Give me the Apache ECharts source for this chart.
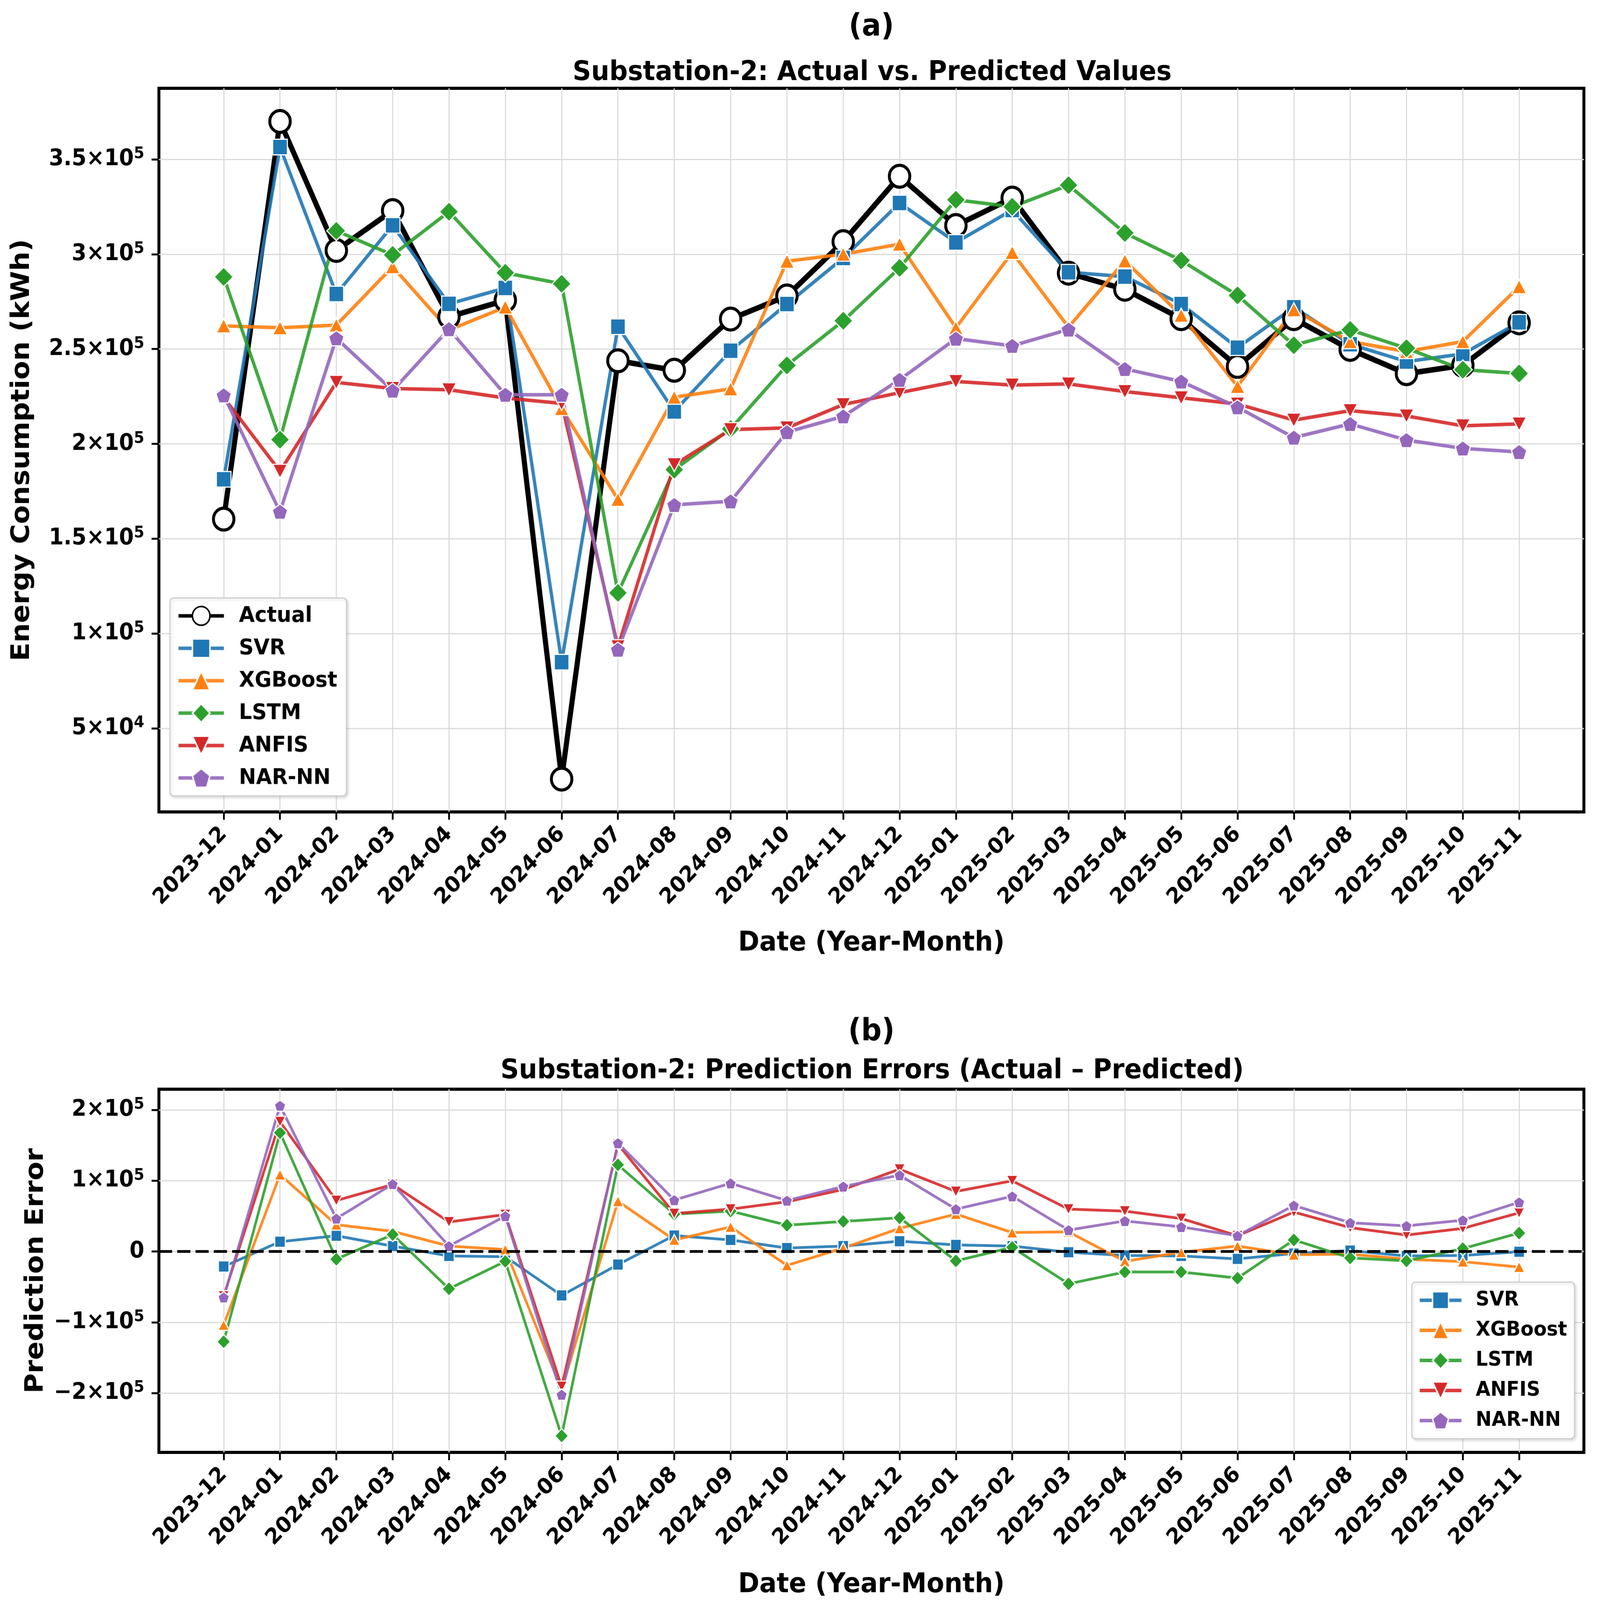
<!DOCTYPE html>
<html>
<head>
<meta charset="utf-8">
<script src="https://cdn.jsdelivr.net/npm/echarts@6/dist/echarts.min.js"></script>
<style>
html,body{margin:0;padding:0;background:#fff;overflow:hidden;}
#wrap{width:100vw;height:100vh;overflow:hidden;position:relative;}
#c{width:4370px;height:4097px;transform-origin:0 0;position:absolute;left:0;top:0;}
</style>
</head>
<body>
<div id="wrap"><div id="c"></div></div>
<script>
// ---------- data ----------
const months = ['2023-12','2024-01','2024-02','2024-03','2024-04','2024-05','2024-06','2024-07','2024-08','2024-09','2024-10','2024-11','2024-12','2025-01','2025-02','2025-03','2025-04','2025-05','2025-06','2025-07','2025-08','2025-09','2025-10','2025-11'];

const actual = [160300, 370000, 302000, 323000, 267000, 275700, 23200, 243800, 238800, 265800, 278000, 306600, 341100, 315100, 329600, 290000, 281500, 266000, 240800, 266000, 249800, 237000, 241400, 263800];
const svr    = [181300, 356500, 279000, 315200, 273800, 282200, 84900, 261800, 217100, 249100, 273700, 298000, 327000, 306200, 323300, 290500, 288200, 273700, 250700, 272000, 252500, 243400, 247400, 264100];
const xgb    = [262200, 261200, 262600, 293400, 260000, 272100, 218600, 170700, 224600, 229000, 296300, 300000, 305300, 261200, 300900, 261500, 296500, 267800, 230300, 270700, 253900, 248700, 253900, 282900];
const lstm   = [288000, 202200, 312300, 299600, 322400, 290200, 284400, 121400, 186400, 207900, 241400, 264900, 292800, 328700, 325000, 336400, 311200, 296700, 278300, 252000, 260100, 250400, 239100, 237100];
const anfis  = [224500, 185500, 232400, 229200, 228500, 224200, 221300, 93000, 189000, 207500, 208400, 220700, 227000, 232900, 231000, 231600, 227600, 224300, 221000, 212500, 217500, 214700, 209500, 210500];
const narnn  = [225600, 164200, 255700, 228100, 260500, 225900, 225900, 91500, 167800, 169700, 206200, 214500, 233800, 255500, 251700, 260300, 239500, 232900, 219300, 203300, 210500, 202000, 197600, 195700];

const errSvr   = [-21200, 13900, 22300, 7700, -6300, -7300, -62000, -18400, 22600, 16400, 4900, 7700, 14600, 9400, 7700, -1000, -5600, -6300, -10400, -2800, 1400, -6300, -5600, -300];
const errXgb   = [-103700, 108600, 37900, 28500, 7700, 2800, -195400, 71000, 16400, 34800, -19500, 4900, 32700, 52900, 26800, 27800, -13900, -1000, 7700, -4500, -3800, -10800, -14300, -21900];
const errLstm  = [-127400, 167800, -10800, 24000, -52600, -13900, -260400, 122500, 52900, 57100, 37200, 42500, 47700, -13200, 5900, -45600, -28900, -28900, -37600, 16400, -9000, -13200, 4200, 26100];
const errAnfis = [-63000, 183400, 72000, 94700, 41800, 52200, -190700, 151500, 53600, 59900, 70300, 87700, 116300, 84900, 99900, 59900, 57100, 46600, 22300, 55700, 33800, 23300, 32700, 54600];
const errNar   = [-64700, 206000, 46600, 95400, 7700, 50100, -202200, 153100, 72700, 96400, 72000, 91900, 107900, 59900, 78000, 30300, 43200, 34800, 22300, 65100, 40700, 36200, 44200, 69600];

const topTicks = [50000, 100000, 150000, 200000, 250000, 300000, 350000];
const botTicks = [-200000, -100000, 0, 100000, 200000];

// ---------- fit the 4370x4097 drawing to the actual window ----------
const BASE_W = 4370, BASE_H = 4097;
const el = document.getElementById('c');
const sx = (window.innerWidth || BASE_W) / BASE_W;
const sy = (window.innerHeight || BASE_H) / BASE_H;
el.style.transform = 'scale(' + sx + ',' + sy + ')';

// ---------- helpers ----------
const FF = 'DejaVu Sans';
const idx = months.map((m, i) => i);
const pairs = arr => arr.map((v, i) => [i, v]);
const PENT = 'path://M0,-1 L-0.951,-0.309 L-0.588,0.809 L0.588,0.809 L0.951,-0.309 Z';

function sci(v) {
  if (v === 0) return '{m|0}';
  const neg = v < 0;
  const a = Math.abs(v);
  const e = Math.floor(Math.log10(a) + 1e-9);
  const m = Math.round(a / Math.pow(10, e) * 100) / 100;
  return '{m|' + (neg ? '\u2212' : '') + m + '\u00d710}{e|' + e + '}';
}

const richY = {
  m: {fontSize: 58, fontWeight: 'bold', fontFamily: FF, color: '#000', lineHeight: 68},
  e: {fontSize: 41, fontWeight: 'bold', fontFamily: FF, color: '#000', lineHeight: 40, verticalAlign: 'top'}
};

function xAxisCfg(gi, gap) {
  return {
    type: 'value', gridIndex: gi, min: -1.15, max: 24.15,
    axisLine: {show: false, onZero: false},
    axisTick: {show: true, customValues: idx, length: 20, lineStyle: {color: '#000', width: 5}},
    axisLabel: {customValues: idx, formatter: v => months[v], rotate: 45, margin: 48,
      fontSize: 56, fontWeight: 'bold', fontFamily: FF, color: '#000'},
    splitLine: {show: true, lineStyle: {color: '#dadada', width: 3}},
    name: 'Date (Year-Month)', nameLocation: 'middle', nameGap: gap,
    nameTextStyle: {fontSize: 70, fontWeight: 'bold', fontFamily: FF, color: '#000'}
  };
}
function yAxisCfg(gi, mn, mx, ticks, name, gap) {
  return {
    type: 'value', gridIndex: gi, min: mn, max: mx,
    axisLine: {show: false, onZero: false},
    axisTick: {show: true, customValues: ticks, length: 20, lineStyle: {color: '#000', width: 5}},
    axisLabel: {customValues: ticks, formatter: sci, rich: richY, margin: 40},
    splitLine: {show: true, lineStyle: {color: '#dadada', width: 3}},
    name: name, nameLocation: 'middle', nameGap: gap,
    nameTextStyle: {fontSize: 70, fontWeight: 'bold', fontFamily: FF, color: '#000'}
  };
}

const COLORS = {SVR: '#1f77b4', XGBoost: '#ff7f0e', LSTM: '#2ca02c', ANFIS: '#d62728', 'NAR-NN': '#9467bd'};
const SYM = {SVR: 'rect', XGBoost: 'triangle', LSTM: 'diamond', ANFIS: 'triangle', 'NAR-NN': PENT};
const ROT = {SVR: 0, XGBoost: 0, LSTM: 0, ANFIS: 180, 'NAR-NN': 0};
const SIZE_TOP = {SVR: [40, 40], XGBoost: [40, 36], LSTM: [52, 50], ANFIS: [40, 36], 'NAR-NN': [42, 39]};
const SIZE_BOT = {SVR: [29, 29], XGBoost: [31, 28], LSTM: [37, 37], ANFIS: [31, 28], 'NAR-NN': [31, 29]};

function modelSeries(name, arr, gi, sizes, lw) {
  return {
    type: 'line', name: name, xAxisIndex: gi, yAxisIndex: gi,
    data: pairs(arr),
    symbol: SYM[name], symbolRotate: ROT[name], symbolSize: sizes[name], symbolKeepAspect: false,
    lineStyle: {color: COLORS[name], width: lw, opacity: 0.9},
    itemStyle: {color: COLORS[name], borderColor: '#fff', borderWidth: 3},
    emphasis: {disabled: true}, animation: false
  };
}

const series = [];
series.push({
  type: 'line', name: 'Actual', xAxisIndex: 0, yAxisIndex: 0,
  data: pairs(actual),
  symbol: 'circle', symbolSize: 56,
  lineStyle: {color: '#000', width: 14},
  itemStyle: {color: '#fff', borderColor: '#000', borderWidth: 8},
  emphasis: {disabled: true}, animation: false
});
series.push(modelSeries('SVR', svr, 0, SIZE_TOP, 9));
series.push(modelSeries('XGBoost', xgb, 0, SIZE_TOP, 9));
series.push(modelSeries('LSTM', lstm, 0, SIZE_TOP, 9));
series.push(modelSeries('ANFIS', anfis, 0, SIZE_TOP, 9));
series.push(modelSeries('NAR-NN', narnn, 0, SIZE_TOP, 9));

series.push(modelSeries('SVR', errSvr, 1, SIZE_BOT, 7));
series.push(modelSeries('XGBoost', errXgb, 1, SIZE_BOT, 7));
series.push(modelSeries('LSTM', errLstm, 1, SIZE_BOT, 7));
series.push(modelSeries('ANFIS', errAnfis, 1, SIZE_BOT, 7));
series.push(modelSeries('NAR-NN', errNar, 1, SIZE_BOT, 7));
series.push({
  type: 'line', name: 'zero', xAxisIndex: 1, yAxisIndex: 1, data: [],
  markLine: {silent: true, symbol: 'none', animation: false,
    label: {show: false},
    lineStyle: {color: '#000', width: 7, type: [36, 14]},
    data: [{yAxis: 0}]},
  animation: false
});

const legendBase = {
  orient: 'vertical', backgroundColor: '#fff',
  borderColor: '#cccccc', borderWidth: 3, borderRadius: 10,
  shadowColor: 'rgba(0,0,0,0.12)', shadowBlur: 6, shadowOffsetX: 4, shadowOffsetY: 4,
  itemStyle: {borderWidth: 4},
  lineStyle: {width: 9},
  selectedMode: false
};

const option = {
  backgroundColor: '#fff',
  animation: false,
  grid: [
    {left: 434, right: 44, top: 226, height: 1853, show: true, borderColor: '#000', borderWidth: 8, containLabel: false},
    {left: 434, right: 44, top: 2789, height: 930, show: true, borderColor: '#000', borderWidth: 8, containLabel: false}
  ],
  xAxis: [xAxisCfg(0, 302), xAxisCfg(1, 305)],
  yAxis: [
    yAxisCfg(0, 5900, 387500, topTicks, 'Energy Consumption (kWh)', 338),
    yAxisCfg(1, -283700, 229300, botTicks, 'Prediction Error', 300)
  ],
  legend: [
    Object.assign({}, legendBase, {
      data: ['Actual', 'SVR', 'XGBoost', 'LSTM', 'ANFIS', 'NAR-NN'],
      left: 464, top: 1531, padding: [16, 25, 16, 19],
      itemWidth: 124, itemHeight: 60, itemGap: 23,
      textStyle: {fontSize: 56, fontWeight: 'bold', fontFamily: FF, color: '#000', lineHeight: 60, padding: [0, 0, 0, 36]}
    }),
    Object.assign({}, legendBase, {
      data: ['SVR', 'XGBoost', 'LSTM', 'ANFIS', 'NAR-NN'],
      left: 3856, top: 3283, padding: [19, 20, 19, 17],
      itemWidth: 114, itemHeight: 55, itemGap: 22,
      textStyle: {fontSize: 52, fontWeight: 'bold', fontFamily: FF, color: '#000', lineHeight: 55, padding: [0, 0, 0, 34]}
    })
  ],
  graphic: [
    {type: 'text', x: 2380, y: 71, style: {text: '(a)', fontSize: 78, fontWeight: 'bold', fontFamily: FF, fill: '#000', align: 'center', verticalAlign: 'middle'}},
    {type: 'text', x: 2382, y: 187, style: {text: 'Substation-2: Actual vs. Predicted Values', fontSize: 70, fontWeight: 'bold', fontFamily: FF, fill: '#000', align: 'center', verticalAlign: 'middle'}},
    {type: 'text', x: 2380, y: 2644, style: {text: '(b)', fontSize: 78, fontWeight: 'bold', fontFamily: FF, fill: '#000', align: 'center', verticalAlign: 'middle'}},
    {type: 'text', x: 2382, y: 2743, style: {text: 'Substation-2: Prediction Errors (Actual \u2013 Predicted)', fontSize: 70, fontWeight: 'bold', fontFamily: FF, fill: '#000', align: 'center', verticalAlign: 'middle'}}
  ],
  series: series
};

const chart = echarts.init(el, null, {renderer: 'canvas', width: BASE_W, height: BASE_H});
chart.setOption(option);
</script>
</body>
</html>
